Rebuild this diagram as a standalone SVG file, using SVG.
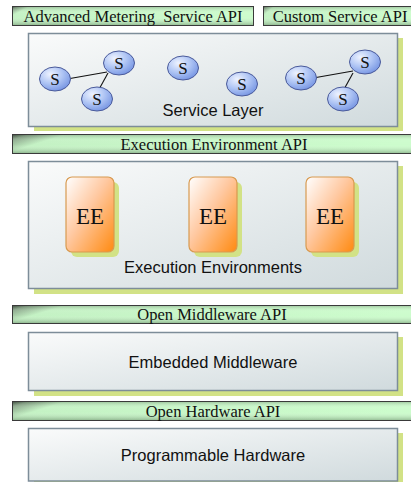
<svg xmlns="http://www.w3.org/2000/svg" width="411" height="482" viewBox="0 0 411 482">
  <defs>
    <!-- API bars: dark left edge fading into pale green -->
    <linearGradient id="barLong" x1="0" y1="0" x2="1" y2="0.15">
      <stop offset="0" stop-color="#4a5a4a"/>
      <stop offset="0.04" stop-color="#8aa68a"/>
      <stop offset="0.13" stop-color="#c4f2c4"/>
      <stop offset="1" stop-color="#ccfccc"/>
    </linearGradient>
    <linearGradient id="barShort" x1="0" y1="0" x2="1" y2="0.15">
      <stop offset="0" stop-color="#4a5a4a"/>
      <stop offset="0.02" stop-color="#8aa68a"/>
      <stop offset="0.07" stop-color="#c4f2c4"/>
      <stop offset="1" stop-color="#ccfccc"/>
    </linearGradient>
    <linearGradient id="barShade" x1="0" y1="0" x2="0" y2="1">
      <stop offset="0" stop-color="#203020" stop-opacity="0.22"/>
      <stop offset="0.3" stop-color="#ffffff" stop-opacity="0.05"/>
      <stop offset="0.55" stop-color="#ffffff" stop-opacity="0"/>
      <stop offset="1" stop-color="#203820" stop-opacity="0.3"/>
    </linearGradient>
    <!-- layer boxes -->
    <linearGradient id="boxFill" x1="0" y1="0" x2="1" y2="1">
      <stop offset="0" stop-color="#fafbfb"/>
      <stop offset="1" stop-color="#d0dadd"/>
    </linearGradient>
    <!-- execution environment blocks -->
    <linearGradient id="eeFill" x1="0" y1="0" x2="1" y2="1">
      <stop offset="0" stop-color="#ffffff"/>
      <stop offset="0.45" stop-color="#ffc8a0"/>
      <stop offset="1" stop-color="#ff8a10"/>
    </linearGradient>
    <!-- service bubbles -->
    <radialGradient id="sFill" cx="0.35" cy="0.3" r="0.8">
      <stop offset="0" stop-color="#eef3ff"/>
      <stop offset="0.5" stop-color="#aec4f4"/>
      <stop offset="1" stop-color="#6e8ee0"/>
    </radialGradient>
    <style>
      .shadow { fill: #d2e286; }
      .box { fill: url(#boxFill); stroke: #7d8d99; stroke-width: 1.5; }
      .bar { stroke: #3a3a3a; stroke-width: 1; }
      .shade { fill: url(#barShade); }
      .apiText { font-family: "Liberation Serif", "Times New Roman", serif; font-size: 16.5px; fill: #111; text-anchor: middle; }
      .layerText { font-family: "Liberation Sans", Arial, sans-serif; font-size: 16.5px; fill: #111; text-anchor: middle; }
      .ee { fill: url(#eeFill); stroke: #d89a50; stroke-width: 1.2; }
      .eeText { font-family: "Liberation Serif", "Times New Roman", serif; font-size: 23px; fill: #111; text-anchor: middle; }
      .svc { fill: url(#sFill); stroke: #4a5a9a; stroke-width: 1; }
      .svcText { font-family: "Liberation Serif", "Times New Roman", serif; font-size: 17px; fill: #111; text-anchor: middle; }
      .link { stroke: #111; stroke-width: 1.1; fill: none; }
    </style>
  </defs>

  <rect width="411" height="482" fill="#ffffff"/>

  <!-- API bars -->
  <g id="api-advanced-metering">
    <rect class="bar" x="12.5" y="6.5" width="241" height="19" fill="url(#barShort)"/>
    <rect class="shade" x="13" y="7" width="240" height="18"/>
    <text class="apiText" x="133" y="21.5" xml:space="preserve">Advanced Metering  Service API</text>
  </g>
  <g id="api-custom-service">
    <rect class="bar" x="263.5" y="6.5" width="150" height="19" fill="url(#barShort)"/>
    <rect class="shade" x="264" y="7" width="149" height="18"/>
    <text class="apiText" x="340" y="21.5">Custom Service API</text>
  </g>

  <!-- Service layer -->
  <g id="service-layer">
    <rect class="shadow" x="34" y="38" width="369" height="93"/>
    <rect class="box" x="28.5" y="33.5" width="369" height="93"/>
    <text class="layerText" x="213" y="116">Service Layer</text>
  </g>

  <!-- links between services -->
  <g id="connectors">
    <line class="link" x1="70" y1="78.5" x2="107" y2="72"/>
    <line class="link" x1="100" y1="87.5" x2="108" y2="73"/>
    <line class="link" x1="316" y1="77.5" x2="353" y2="71"/>
    <line class="link" x1="345" y1="87.5" x2="353" y2="73"/>
  </g>

  <g id="s1"><ellipse class="svc" cx="55" cy="79" rx="15.5" ry="12"/><text class="svcText" x="55" y="85">S</text></g>
  <g id="s2"><ellipse class="svc" cx="119" cy="63" rx="15.5" ry="12"/><text class="svcText" x="119" y="69">S</text></g>
  <g id="s3"><ellipse class="svc" cx="97" cy="99" rx="15.5" ry="12"/><text class="svcText" x="97" y="105">S</text></g>
  <g id="s4"><ellipse class="svc" cx="183" cy="68" rx="15.5" ry="12"/><text class="svcText" x="183" y="74">S</text></g>
  <g id="s5"><ellipse class="svc" cx="242" cy="84" rx="15.5" ry="12"/><text class="svcText" x="242" y="90">S</text></g>
  <g id="s6"><ellipse class="svc" cx="301" cy="78" rx="15.5" ry="12"/><text class="svcText" x="301" y="84">S</text></g>
  <g id="s7"><ellipse class="svc" cx="365" cy="62" rx="15.5" ry="12"/><text class="svcText" x="365" y="68">S</text></g>
  <g id="s8"><ellipse class="svc" cx="343" cy="99" rx="15.5" ry="12"/><text class="svcText" x="343" y="105">S</text></g>

  <g id="api-execution-environment">
    <rect class="bar" x="12.5" y="134.5" width="401" height="19" fill="url(#barLong)"/>
    <rect class="shade" x="13" y="135" width="400" height="18"/>
    <text class="apiText" x="214" y="149.5">Execution Environment API</text>
  </g>

  <!-- Execution environments -->
  <g id="execution-environments">
    <rect class="shadow" x="34" y="166" width="369" height="128"/>
    <rect class="box" x="28.5" y="161.5" width="369" height="127"/>
    <text class="layerText" x="213" y="273">Execution Environments</text>
  </g>
  <g id="ee1">
    <rect class="shadow" x="71" y="182" width="48" height="75" rx="6"/>
    <rect class="ee" x="66" y="177" width="48" height="75" rx="6"/>
    <text class="eeText" x="90" y="224">EE</text>
  </g>
  <g id="ee2">
    <rect class="shadow" x="194" y="182" width="48" height="75" rx="6"/>
    <rect class="ee" x="189" y="177" width="48" height="75" rx="6"/>
    <text class="eeText" x="213" y="224">EE</text>
  </g>
  <g id="ee3">
    <rect class="shadow" x="311" y="182" width="48" height="75" rx="6"/>
    <rect class="ee" x="306" y="177" width="48" height="75" rx="6"/>
    <text class="eeText" x="330" y="224">EE</text>
  </g>

  <g id="api-open-middleware">
    <rect class="bar" x="12.5" y="305.5" width="401" height="18" fill="url(#barLong)"/>
    <rect class="shade" x="13" y="306" width="400" height="17"/>
    <text class="apiText" x="212" y="320">Open Middleware API</text>
  </g>

  <g id="embedded-middleware">
    <rect class="shadow" x="34" y="337" width="369" height="59"/>
    <rect class="box" x="28.5" y="332.5" width="369" height="58"/>
    <text class="layerText" x="213" y="368">Embedded Middleware</text>
  </g>

  <g id="api-open-hardware">
    <rect class="bar" x="12.5" y="401.5" width="401" height="19" fill="url(#barLong)"/>
    <rect class="shade" x="13" y="402" width="400" height="18"/>
    <text class="apiText" x="213" y="416.5">Open Hardware API</text>
  </g>

  <g id="programmable-hardware">
    <rect class="shadow" x="34" y="433" width="369" height="55"/>
    <rect class="box" x="28.5" y="428.5" width="369" height="52.5"/>
    <text class="layerText" x="213" y="461">Programmable Hardware</text>
  </g>
</svg>
